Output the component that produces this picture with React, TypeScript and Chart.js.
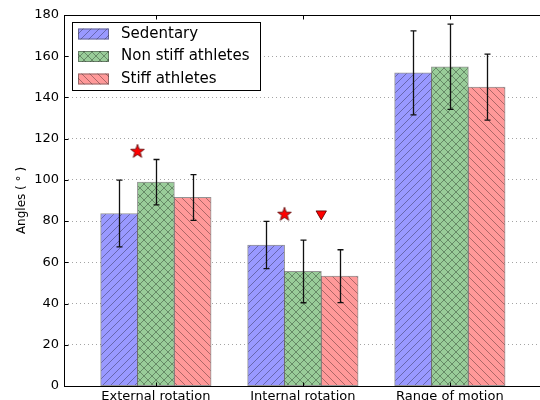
import React, { useEffect, useRef } from "react";
import { Chart, registerables } from "chart.js";

Chart.register(...registerables);

const categories = ["External rotation", "Internal rotation", "Range of motion"];
const seriesNames = ["Sedentary", "Non stiff athletes", "Stiff athletes"];
const sedentaryMeans = [83.7, 68.4, 151.9];
const sedentaryErr = [16.2, 11.5, 20.4];
const nonStiffMeans = [98.9, 55.6, 154.9];
const nonStiffErr = [11.0, 15.2, 20.7];
const stiffMeans = [91.5, 53.3, 145.0];
const stiffErr = [11.1, 12.8, 16.0];
const starPoints = [
  { x: 0.25, y: 114 },
  { x: 1.25, y: 83.5 },
];
const trianglePoints = [{ x: 1.5, y: 83.5 }];
const yTicks = [0, 20, 40, 60, 80, 100, 120, 140, 160, 180];

const FONT = "'DejaVu Sans', sans-serif";

function makeHatch(bg: string, kind: string): CanvasPattern | string {
  const s = 8;
  const c = document.createElement("canvas");
  c.width = s;
  c.height = s;
  const ctx = c.getContext("2d");
  if (!ctx) return bg;
  ctx.fillStyle = bg;
  ctx.fillRect(0, 0, s, s);
  ctx.strokeStyle = "rgba(0,0,0,0.32)";
  ctx.lineWidth = 1;
  const seg = (a: number, b: number, cc: number, d: number) => {
    ctx.beginPath();
    ctx.moveTo(a, b);
    ctx.lineTo(cc, d);
    ctx.stroke();
  };
  if (kind === "/" || kind === "x") {
    seg(-1, s + 1, s + 1, -1);
    seg(-1, 1, 1, -1);
    seg(s - 1, s + 1, s + 1, s - 1);
  }
  if (kind === "\\" || kind === "x") {
    seg(-1, -1, s + 1, s + 1);
    seg(s - 1, -1, s + 1, 1);
    seg(-1, s - 1, 1, s + 1);
  }
  const p = ctx.createPattern(c, "repeat");
  return p || bg;
}

function makeStar(): HTMLCanvasElement {
  const c = document.createElement("canvas");
  c.width = 18;
  c.height = 18;
  const ctx = c.getContext("2d")!;
  const cx = 9, cy = 9.5, R = 7.2, r = 2.9;
  ctx.beginPath();
  for (let i = 0; i < 10; i++) {
    const rad = i % 2 === 0 ? R : r;
    const a = -Math.PI / 2 + (i * Math.PI) / 5;
    const x = cx + rad * Math.cos(a);
    const y = cy + rad * Math.sin(a);
    if (i === 0) ctx.moveTo(x, y);
    else ctx.lineTo(x, y);
  }
  ctx.closePath();
  ctx.fillStyle = "#ff0000";
  ctx.fill();
  ctx.strokeStyle = "#550000";
  ctx.lineWidth = 0.8;
  ctx.stroke();
  return c;
}

export default function App() {
  const ref = useRef<HTMLCanvasElement | null>(null);

  useEffect(() => {
    if (!ref.current) return;
    const fills = ["#9999ff", "#99cc99", "#ff9999"];
    const kinds = ["/", "x", "\\"];
    const patterns = fills.map((f, i) => makeHatch(f, kinds[i]));
    const means = [sedentaryMeans, nonStiffMeans, stiffMeans];
    const errs = [sedentaryErr, nonStiffErr, stiffErr];
    const offsets = [0.125, 0.375, 0.625];

    const barSets = means.map((m, k) => ({
      type: "bar" as const,
      label: seriesNames[k],
      data: m.map((v, i) => ({ x: i + offsets[k], y: v })),
      backgroundColor: patterns[k],
      borderColor: "rgba(60,60,60,0.55)",
      borderWidth: 1,
      borderSkipped: false,
      barThickness: 37,
      grouped: false,
      errors: errs[k],
      order: 2,
    }));

    const errorBars = {
      id: "errorBars",
      afterDatasetsDraw(chart: any) {
        const ctx = chart.ctx;
        const y = chart.scales.y;
        ctx.save();
        ctx.strokeStyle = "#111";
        ctx.lineWidth = 1.3;
        chart.data.datasets.forEach((ds: any, di: number) => {
          if (!ds.errors) return;
          const meta = chart.getDatasetMeta(di);
          meta.data.forEach((el: any, i: number) => {
            const v = ds.data[i].y;
            const e = ds.errors[i];
            const x = Math.round(el.x) + 0.5;
            const y1 = y.getPixelForValue(v + e);
            const y2 = y.getPixelForValue(v - e);
            ctx.beginPath();
            ctx.moveTo(x, y1);
            ctx.lineTo(x, y2);
            ctx.moveTo(x - 3, y1);
            ctx.lineTo(x + 3, y1);
            ctx.moveTo(x - 3, y2);
            ctx.lineTo(x + 3, y2);
            ctx.stroke();
          });
        });
        ctx.restore();
      },
    };

    const frame = {
      id: "frame",
      afterDraw(chart: any) {
        const ctx = chart.ctx;
        const a = chart.chartArea;
        const xs = chart.scales.x;
        const ys = chart.scales.y;
        ctx.save();
        ctx.strokeStyle = "#000";
        ctx.lineWidth = 1;
        const L = Math.round(a.left) + 0.5;
        const R = Math.round(a.right) + 0.5;
        const T = Math.round(a.top) + 0.5;
        const B = Math.round(a.bottom) + 0.5;
        ctx.strokeRect(L, T, R - L, B - T);
        ctx.beginPath();
        yTicks.forEach((t) => {
          const py = Math.round(ys.getPixelForValue(t)) + 0.5;
          ctx.moveTo(L, py);
          ctx.lineTo(L + 4, py);
          ctx.moveTo(R, py);
          ctx.lineTo(R - 4, py);
        });
        categories.forEach((_, i) => {
          const px = Math.round(xs.getPixelForValue(i + 0.375)) + 0.5;
          ctx.moveTo(px, B);
          ctx.lineTo(px, B - 4);
          ctx.moveTo(px, T);
          ctx.lineTo(px, T + 4);
        });
        ctx.stroke();

        // legend
        const lx = 72.5, ly = 22.5, lw = 188, lh = 68;
        ctx.fillStyle = "#fff";
        ctx.fillRect(lx, ly, lw, lh);
        ctx.strokeRect(lx, ly, lw, lh);
        const rowsY = [34, 56.5, 79];
        seriesNames.forEach((name, k) => {
          const py = rowsY[k];
          ctx.fillStyle = patterns[k] as any;
          ctx.fillRect(78, py - 5.5, 31, 11);
          ctx.strokeStyle = "rgba(60,60,60,0.55)";
          ctx.strokeRect(78.5, py - 5, 30, 10);
          ctx.fillStyle = "#000";
          ctx.font = "15px " + FONT;
          ctx.textBaseline = "middle";
          ctx.textAlign = "left";
          ctx.fillText(name, 121, py);
        });
        ctx.restore();
      },
    };

    const chart = new Chart(ref.current, {
      type: "bar",
      data: {
        datasets: [
          ...barSets,
          {
            type: "scatter" as const,
            label: "star",
            data: starPoints,
            pointStyle: makeStar(),
            order: 1,
          },
          {
            type: "scatter" as const,
            label: "triangle",
            data: trianglePoints,
            pointStyle: "triangle",
            rotation: 180,
            radius: 6,
            backgroundColor: "#ff0000",
            borderColor: "#550000",
            borderWidth: 0.8,
            order: 1,
          },
        ] as any,
      },
      options: {
        responsive: false,
        animation: false,
        events: [],
        layout: { padding: { left: 0, top: 15, right: 21.5, bottom: 0 } },
        plugins: {
          legend: { display: false },
          tooltip: { enabled: false },
        },
        scales: {
          x: {
            type: "linear",
            min: -0.25,
            max: 3.25,
            offset: false,
            afterFit: (s: any) => {
              s.height = 34;
            },
            afterBuildTicks: (s: any) => {
              s.ticks = categories.map((_, i) => ({ value: i + 0.375 }));
            },
            grid: { display: false, drawTicks: false },
            border: { display: false },
            ticks: {
              autoSkip: false,
              maxRotation: 0,
              padding: 3,
              color: "#000",
              font: { family: FONT, size: 13 },
              callback: (v: any) => {
                const i = Math.round(Number(v) - 0.375);
                return categories[i] ?? "";
              },
            },
          },
          y: {
            min: 0,
            max: 180,
            afterFit: (s: any) => {
              s.width = 64;
            },
            afterBuildTicks: (s: any) => {
              s.ticks = yTicks.map((v) => ({ value: v }));
            },
            grid: {
              color: "rgba(0,0,0,0.45)",
              lineWidth: 0.8,
              drawTicks: false,
            },
            border: { display: false, dash: [1, 3] },
            ticks: {
              padding: 5,
              color: "#000",
              font: { family: FONT, size: 13 },
            },
            title: {
              display: true,
              text: "Angles ( \u00B0 )",
              color: "#000",
              font: { family: FONT, size: 12 },
              padding: { top: 15, bottom: 0 },
            },
          },
        },
      },
      plugins: [errorBars, frame],
    } as any);
    return () => chart.destroy();
  }, []);

  return (
    <div
      style={{
        position: "fixed",
        left: 0,
        top: 0,
        width: 540,
        height: 400,
        overflow: "hidden",
        background: "#fff",
      }}
    >
      <canvas ref={ref} width={600} height={420} style={{ width: 600, height: 420, display: "block" }} />
    </div>
  );
}
